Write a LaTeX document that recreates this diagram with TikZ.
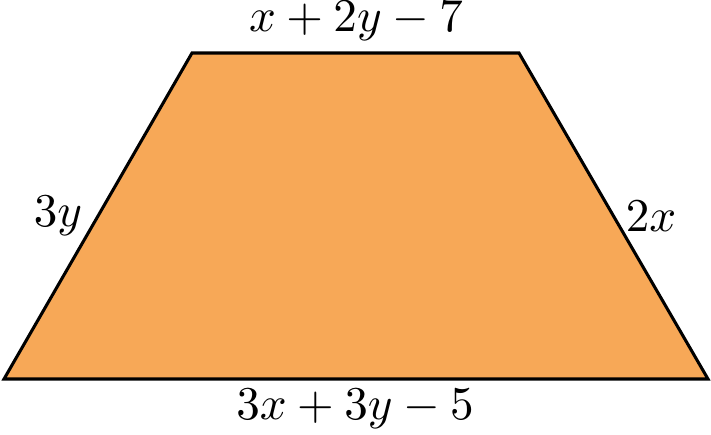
\documentclass[tikz,border=0pt]{standalone}
\usepackage{amsmath}
\usetikzlibrary{positioning}
\definecolor{trapfill}{RGB}{247,168,87}
\tikzset{
  trapedge/.style={draw=black, line width=0.65pt, line join=miter, fill=trapfill},
  sidelabel/.style={inner sep=0pt, font=\normalsize},
}

\begin{document}
\begin{tikzpicture}[x=0.2125pt, y=-0.2125pt]

  % -- frame --
  \useasboundingbox (0,0) rectangle (711,434);

  % -- corners --
  \coordinate (BL) at (4,379);
  \coordinate (BR) at (708,379);
  \coordinate (TR) at (519,53);
  \coordinate (TL) at (192,53);

  % -- trapezoid --
  \draw[trapedge] (BL) -- (BR) -- (TR) -- (TL) -- cycle;

  % -- side labels --
  \node[sidelabel] (top) at (356,21) {$x+2y-7$};
  \node[sidelabel] (left) at (58,216) {$3y$};
  \node[sidelabel] (right) at (651,216) {$2x$};
  \node[sidelabel] (bottom) at (355,409) {$3x+3y-5$};

\end{tikzpicture}
\end{document}
